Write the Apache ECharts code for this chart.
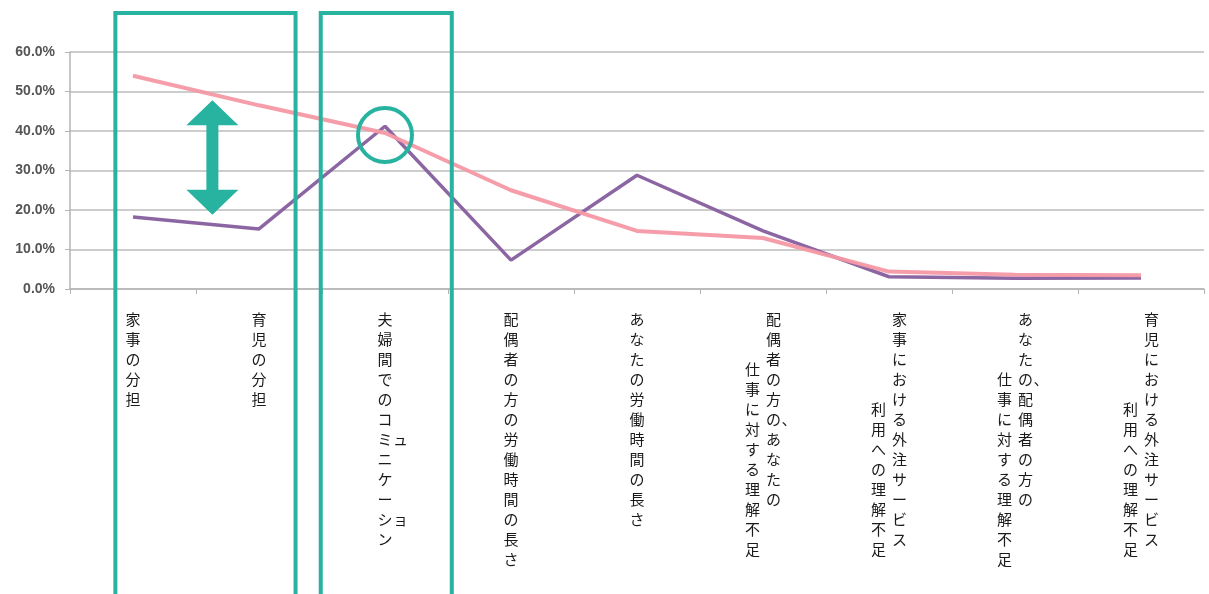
<!DOCTYPE html>
<html lang="ja">
<head>
    <meta charset="UTF-8">
    <title>夫婦間の理解不足</title>
    <style>
        html, body { margin: 0; padding: 0; background: #fff; }
        #main { width: 1209px; height: 594px; }
    </style>
</head>
<body>
<div id="main"></div>
<script src="https://cdn.jsdelivr.net/npm/echarts@6/dist/echarts.min.js"></script>
<script type="text/javascript">
    // 項目 (改行 = 縦書きの次の行)
    var categories = [
        '家事の分担',
        '育児の分担',
        '夫婦間でのコミュニケーション',
        '配偶者の方の労働時間の長さ',
        'あなたの労働時間の長さ',
        '配偶者の方の、あなたの\n仕事に対する理解不足',
        '家事における外注サービス\n利用への理解不足',
        'あなたの、配偶者の方の\n仕事に対する理解不足',
        '育児における外注サービス\n利用への理解不足'
    ];
    var purpleValues = [18.2, 15.2, 41.2, 7.3, 28.8, 14.7, 3.1, 2.7, 2.8];
    var pinkValues = [54.0, 46.5, 39.5, 25.0, 14.7, 12.9, 4.4, 3.6, 3.5];
    var yTicks = [0, 10, 20, 30, 40, 50, 60];

    var TEAL = '#27b3a0';
    // 2行目の開始位置 (半文字単位)
    var secondLineShift = { 5: 5, 6: 9, 7: 6, 8: 9 };
    // 前の文字の横に並ぶ文字 (小書き・読点)
    var SIDE_CHARS = 'ャュョッァィゥェォ、';

    function columnRows(text, startRow) {  // 一行分を縦に並べる
        var rows = {};
        var side = {};
        var r = startRow;
        for (var i = 0; i < text.length; i++) {
            var ch = text.charAt(i);
            if (SIDE_CHARS.indexOf(ch) >= 0 && r > startRow) {
                side[r - 2] = (side[r - 2] || '') + ch;
                continue;
            }
            rows[r] = ch;
            r += 2;
        }
        return { rows: rows, side: side, end: r };
    }

    function verticalLabel(value, index) {  // 縦書きラベル
        var lines = value.split('\n');
        var first = columnRows(lines[0], 0);
        var second = lines.length > 1 ? columnRows(lines[1], secondLineShift[index] || 0) : null;
        var total = Math.max(first.end, second ? second.end : 0);
        var out = [];
        for (var r = 0; r < total; r++) {
            var s = '{e|　}';
            if (second) {
                s += '{c|' + (second.rows[r] || '　') + '}';
            }
            s += '{c|' + (first.rows[r] || '　') + '}';
            s += '{e|' + (first.side[r] || '　') + '}';
            out.push(s);
        }
        return out.join('\n');
    }

    window.onload = function () {
        var chart = echarts.init(document.getElementById('main'));
        var labelFont = {
            fontFamily: 'Noto Sans CJK JP',
            fontSize: 15,
            color: '#1a1a1a',
            align: 'center',
            lineHeight: 10
        };
        var option = {
            animation: false,
            grid: { left: 70, right: 5, top: 52, bottom: 305, containLabel: false, outerBoundsMode: 'none' },
            xAxis: {
                type: 'category',
                data: categories,
                boundaryGap: true,
                axisLine: { lineStyle: { color: '#b5b5b5', width: 1.5 } },
                axisTick: { show: true, length: 5, lineStyle: { color: '#b5b5b5' } },
                axisLabel: {
                    interval: 0,
                    margin: 25,
                    align: 'center',
                    verticalAlign: 'top',
                    formatter: verticalLabel,
                    rich: {
                        c: Object.assign({ width: 21 }, labelFont),
                        e: Object.assign({ width: 10 }, labelFont)
                    }
                }
            },
            yAxis: {
                type: 'value',
                min: yTicks[0],
                max: yTicks[yTicks.length - 1],
                interval: yTicks[1] - yTicks[0],
                axisLine: { show: true, lineStyle: { color: '#b5b5b5', width: 1.5 } },
                axisTick: { show: true, length: 5, lineStyle: { color: '#b5b5b5' } },
                axisLabel: {
                    margin: 15,
                    fontFamily: 'Liberation Sans',
                    fontSize: 14,
                    fontWeight: 'bold',
                    color: '#555',
                    formatter: function (v) { return v.toFixed(1) + '%'; }
                },
                splitLine: { lineStyle: { color: '#bdbdbd', width: 1.5 } }
            },
            series: [
                {
                    name: '系列1',
                    type: 'line',
                    data: purpleValues,
                    symbol: 'none',
                    lineStyle: { color: '#8b66a3', width: 3.5 },
                    itemStyle: { color: '#8b66a3' },
                    z: 2
                },
                {
                    name: '系列2',
                    type: 'line',
                    data: pinkValues,
                    symbol: 'none',
                    lineStyle: { color: '#f598a5', width: 4, opacity: 0.95 },
                    itemStyle: { color: '#f598a5' },
                    z: 3
                }
            ]
        };
        chart.setOption(option);
        drawMarks();

        function drawMarks() {  // 注釈の枠・丸・矢印
            var c0 = chart.convertToPixel({ gridIndex: 0 }, [0, 0]);
            var c1 = chart.convertToPixel({ gridIndex: 0 }, [1, 0]);
            var c2 = chart.convertToPixel({ gridIndex: 0 }, [2, 39]);
            var step = c1[0] - c0[0];
            var top = 13;
            var bottom = 600;
            var ax = c0[0] + 0.63 * step;
            var ay1 = chart.convertToPixel({ gridIndex: 0 }, [0, 47.8])[1];
            var ay2 = chart.convertToPixel({ gridIndex: 0 }, [0, 18.8])[1];
            var hw = 26, hh = 25, sw = 6;
            chart.setOption({
                graphic: [
                    {
                        type: 'rect', z: 10,
                        shape: { x: c0[0] - 0.14 * step, y: top, width: (c1[0] + 0.29 * step) - (c0[0] - 0.14 * step), height: bottom - top },
                        style: { fill: 'none', stroke: TEAL, lineWidth: 4 }
                    },
                    {
                        type: 'rect', z: 10,
                        shape: { x: c2[0] - 0.51 * step, y: top, width: 1.04 * step, height: bottom - top },
                        style: { fill: 'none', stroke: TEAL, lineWidth: 4 }
                    },
                    {
                        type: 'circle', z: 10,
                        shape: { cx: c2[0], cy: c2[1], r: 27 },
                        style: { fill: 'none', stroke: TEAL, lineWidth: 4 }
                    },
                    {
                        type: 'polygon', z: 10,
                        shape: {
                            points: [
                                [ax, ay1], [ax + hw, ay1 + hh], [ax + sw, ay1 + hh],
                                [ax + sw, ay2 - hh], [ax + hw, ay2 - hh], [ax, ay2],
                                [ax - hw, ay2 - hh], [ax - sw, ay2 - hh], [ax - sw, ay1 + hh],
                                [ax - hw, ay1 + hh]
                            ]
                        },
                        style: { fill: TEAL }
                    }
                ]
            });
        }
    }
</script>
</body>
</html>
